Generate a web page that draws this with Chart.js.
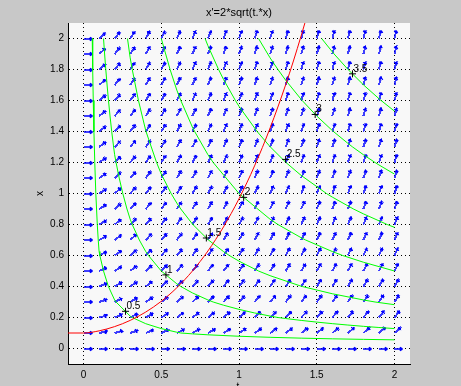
<!DOCTYPE html>
<html><head><meta charset="utf-8">
<script src="https://cdn.jsdelivr.net/npm/chart.js@4/dist/chart.umd.min.js"></script>
<style>html,body{margin:0;padding:0;background:#c8c8c8;overflow:hidden}</style>
</head><body>
<canvas id="c" width="461" height="386"></canvas>
<script>
// ---- data ----
const chartTitle = "x'=2*sqrt(t.*x)";
const xAxisTitle = "t";
const yAxisTitle = "x";
const tGrid = [0,0.1,0.2,0.3,0.4,0.5,0.6,0.7,0.8,0.9,1,1.1,1.2,1.3,1.4,1.5,1.6,1.7,1.8,1.9,2];
const xGrid = [0,0.1,0.2,0.3,0.4,0.5,0.6,0.7,0.8,0.9,1,1.1,1.2,1.3,1.4,1.5,1.6,1.7,1.8,1.9,2];
// slopeRows[j][i] : slope x' at x = xGrid[j], t = tGrid[i]
const slopeRows = [
[0,0,0,0,0,0,0,0,0,0,0,0,0,0,0,0,0,0,0,0,0],
[0,.2,.28,.35,.4,.45,.49,.53,.57,.6,.63,.66,.69,.72,.75,.77,.8,.82,.85,.87,.89],
[0,.28,.4,.49,.57,.63,.69,.75,.8,.85,.89,.94,.98,1.02,1.06,1.1,1.13,1.17,1.2,1.23,1.26],
[0,.35,.49,.6,.69,.77,.85,.92,.98,1.04,1.1,1.15,1.2,1.25,1.3,1.34,1.39,1.43,1.47,1.51,1.55],
[0,.4,.57,.69,.8,.89,.98,1.06,1.13,1.2,1.26,1.33,1.39,1.44,1.5,1.55,1.6,1.65,1.7,1.74,1.79],
[0,.45,.63,.77,.89,1,1.1,1.18,1.26,1.34,1.41,1.48,1.55,1.61,1.67,1.73,1.79,1.84,1.9,1.95,2],
[0,.49,.69,.85,.98,1.1,1.2,1.3,1.39,1.47,1.55,1.62,1.7,1.77,1.83,1.9,1.96,2.02,2.08,2.14,2.19],
[0,.53,.75,.92,1.06,1.18,1.3,1.4,1.5,1.59,1.67,1.76,1.83,1.91,1.98,2.05,2.12,2.18,2.24,2.31,2.37],
[0,.57,.8,.98,1.13,1.26,1.39,1.5,1.6,1.7,1.79,1.88,1.96,2.04,2.12,2.19,2.26,2.33,2.4,2.47,2.53],
[0,.6,.85,1.04,1.2,1.34,1.47,1.59,1.7,1.8,1.9,1.99,2.08,2.16,2.25,2.32,2.4,2.47,2.55,2.62,2.68],
[0,.63,.89,1.1,1.26,1.41,1.55,1.67,1.79,1.9,2,2.1,2.19,2.28,2.37,2.45,2.53,2.61,2.68,2.76,2.83],
[0,.66,.94,1.15,1.33,1.48,1.62,1.75,1.88,1.99,2.1,2.2,2.3,2.39,2.48,2.57,2.65,2.73,2.81,2.89,2.97],
[0,.69,.98,1.2,1.39,1.55,1.7,1.83,1.96,2.08,2.19,2.3,2.4,2.5,2.59,2.68,2.77,2.86,2.94,3.02,3.1],
[0,.72,1.02,1.25,1.44,1.61,1.77,1.91,2.04,2.16,2.28,2.39,2.5,2.6,2.7,2.79,2.88,2.97,3.06,3.14,3.22],
[0,.75,1.06,1.3,1.5,1.67,1.83,1.98,2.12,2.24,2.37,2.48,2.59,2.7,2.8,2.9,2.99,3.09,3.17,3.26,3.35],
[0,.77,1.1,1.34,1.55,1.73,1.9,2.05,2.19,2.32,2.45,2.57,2.68,2.79,2.9,3,3.1,3.19,3.29,3.38,3.46],
[0,.8,1.13,1.39,1.6,1.79,1.96,2.12,2.26,2.4,2.53,2.65,2.77,2.88,2.99,3.1,3.2,3.3,3.39,3.49,3.58],
[0,.82,1.17,1.43,1.65,1.84,2.02,2.18,2.33,2.47,2.61,2.73,2.86,2.97,3.09,3.19,3.3,3.4,3.5,3.59,3.69],
[0,.85,1.2,1.47,1.7,1.9,2.08,2.24,2.4,2.55,2.68,2.81,2.94,3.06,3.17,3.29,3.39,3.5,3.6,3.7,3.79],
[0,.87,1.23,1.51,1.74,1.95,2.14,2.31,2.47,2.62,2.76,2.89,3.02,3.14,3.26,3.38,3.49,3.59,3.7,3.8,3.9],
[0,.89,1.26,1.55,1.79,2,2.19,2.37,2.53,2.68,2.83,2.97,3.1,3.22,3.35,3.46,3.58,3.69,3.79,3.9,4]
];
const xTickValues = [0,0.5,1,1.5,2];
const xTickLabels = ['0','0.5','1','1.5','2'];
const yTickValues = [0,0.2,0.4,0.6,0.8,1,1.2,1.4,1.6,1.8,2];
const yTickLabels = ['0','0.2','0.4','0.6','0.8','1','1.2','1.4','1.6','1.8','2'];

// isoclines (t, x) points
const iso0_5 = [[.0559,2],[.0589,1.8],[.0625,1.6],[.0668,1.4],[.0722,1.2],[.079,1],[.0884,.8],[.0945,.7],[.1,.626],[.105,.6],[.1285,.5],[.16,.4],[.2,.313],[.209,.3],[.3,.209],[.313,.2],[.4,.16],[.5,.1285],[.6,.105],[.626,.1],[.7,.0945],[.8,.0884],[1,.079],[1.2,.0722],[1.4,.0668],[1.6,.0625],[1.8,.0589],[2,.0559]];
const iso1 = [[.1285,2],[.1355,1.9],[.1431,1.8],[.1514,1.7],[.1604,1.6],[.1703,1.5],[.1812,1.4],[.1934,1.3],[.2,1.2505],[.2092,1.2],[.2294,1.1],[.2525,1],[.2794,.9],[.3,.834],[.3133,.8],[.3588,.7],[.4,.6257],[.4175,.6],[.5,.5],[.6,.4175],[.6257,.4],[.7,.3588],[.8,.3133],[.834,.3],[.9,.2794],[1,.2525],[1.1,.2294],[1.2,.2092],[1.2505,.2],[1.3,.1934],[1.4,.1812],[1.5,.1703],[1.6,.1604],[1.7,.1514],[1.8,.1431],[1.9,.1355],[2,.1285]];
const iso1_5 = [[.2827,2],[.3,1.8753],[.3133,1.8],[.3533,1.6],[.4,1.4063],[.4019,1.4],[.4699,1.2],[.5,1.1255],[.5635,1],[.6,.9381],[.6257,.9],[.7,.8036],[.7032,.8],[.8,.7032],[.8036,.7],[.9,.6257],[.9381,.6],[1,.5635],[1.1255,.5],[1.2,.4699],[1.4,.4019],[1.4063,.4],[1.6,.3533],[1.8,.3133],[1.8753,.3],[2,.2827]];
const iso2 = [[.5,2],[.5567,1.8],[.6,1.667],[.6257,1.6],[.7,1.4286],[.7147,1.4],[.8,1.2505],[.834,1.2],[1,1],[1.2,.834],[1.2505,.8],[1.4,.7147],[1.4286,.7],[1.6,.6257],[1.667,.6],[1.8,.5567],[2,.5]];
const iso2_5 = [[.7818,2],[.8,1.9534],[.8688,1.8],[.9,1.7365],[.977,1.6],[1,1.5627],[1.1165,1.4],[1.2,1.3021],[1.3021,1.2],[1.4,1.1165],[1.5627,1],[1.6,.977],[1.7365,.9],[1.8,.8688],[1.9534,.8],[2,.7818]];
const iso3 = [[1.1255,2],[1.2,1.8751],[1.2505,1.8],[1.3,1.731],[1.4,1.6073],[1.4063,1.6],[1.5,1.5],[1.6,1.4065],[1.6074,1.4],[1.7,1.3239],[1.7311,1.3],[1.8,1.2505],[1.8753,1.2],[1.9,1.1844],[2,1.1254]];
const iso3_5 = [[1.5317,2],[1.6,1.9142],[1.6119,1.9],[1.7,1.8017],[1.7015,1.8],[1.8,1.7016],[1.8016,1.7],[1.9,1.6122],[1.9142,1.6],[2,1.5315]];

// contour labels
const levelLabels = ['0.5','1','1.5','2','2.5','3','3.5'];
const labelT = [0.27,0.53,0.79,1.03,1.30,1.49,1.73];
const labelX = [0.24,0.475,0.713,0.975,1.22,1.51,1.772];

// solution curve
const solT = [-0.1,0,0.1,0.2,0.3,0.4,0.5,0.6,0.7,0.8,0.9,1.0,1.1,1.2,1.3,1.35,1.4,1.45];
const solX = [0.1,0.1,0.1138,0.1413,0.1813,0.2351,0.3046,0.3919,0.4993,0.6292,0.7839,0.9661,1.1779,1.4223,1.7013,1.8548,2.0181,2.191];

// ---- rendering ----
const FONT = "'Liberation Sans', Arial, Helvetica, sans-serif";
Chart.defaults.font.family = FONT;
Chart.defaults.font.size = 10;
Chart.defaults.color = '#000';

function makeArrow(){
  const c = document.createElement('canvas');
  c.width = 24; c.height = 24;
  const g = c.getContext('2d');
  g.strokeStyle = '#0000ff';
  g.lineWidth = 1.5;
  g.beginPath();
  g.moveTo(12,12); g.lineTo(20.5,12);
  g.moveTo(20.5,12); g.lineTo(17.8,10.4);
  g.moveTo(20.5,12); g.lineTo(17.8,13.6);
  g.stroke();
  return c;
}
const arrowImg = makeArrow();

const arrowData = [];
xGrid.forEach((xv, j) => tGrid.forEach((tv, i) => arrowData.push({x: tv, y: xv, s: slopeRows[j][i]})));

const toPts = arr => arr.map(p => ({x: p[0], y: p[1]}));
const isoSets = [iso0_5, iso1, iso1_5, iso2, iso2_5, iso3, iso3_5];

const datasets = [];
datasets.push({
  label: 'solution', type: 'line',
  data: solT.map((t, k) => ({x: t, y: solX[k]})),
  borderColor: '#ff0000', borderWidth: 1, pointRadius: 0, fill: false,
  cubicInterpolationMode: 'monotone'
});
datasets.push({
  label: 'labels', type: 'scatter',
  data: labelT.map((t, k) => ({x: t, y: labelX[k]})),
  pointStyle: 'cross', pointRadius: 3.5, borderColor: '#000', borderWidth: 1
});
isoSets.forEach((s, k) => datasets.push({
  label: 'iso ' + levelLabels[k], type: 'line',
  data: toPts(s), borderColor: '#00ff00', borderWidth: 1, pointRadius: 0, tension: 0, fill: false
}));
datasets.push({
  label: 'field', type: 'scatter',
  data: arrowData,
  pointStyle: arrowImg, pointRadius: 5,
  rotation: ctx => ctx.raw ? -Math.atan(ctx.raw.s) * 180 / Math.PI : 0
});

const decor = {
  id: 'decor',
  beforeDraw(chart){
    const {ctx, chartArea: a} = chart;
    ctx.save();
    ctx.fillStyle = '#c8c8c8'; ctx.fillRect(0, 0, chart.width, chart.height);
    ctx.fillStyle = '#f8f8f8'; ctx.fillRect(a.left, a.top, a.right - a.left, a.bottom - a.top);
    ctx.restore();
  },
  beforeDatasetsDraw(chart){
    chart.ctx.imageSmoothingEnabled = false;
  },
  afterDatasetsDraw(chart){
    const {ctx, scales} = chart;
    ctx.imageSmoothingEnabled = true;
    ctx.save();
    ctx.fillStyle = '#000';
    ctx.font = '10px ' + FONT;
    ctx.textAlign = 'left'; ctx.textBaseline = 'alphabetic';
    levelLabels.forEach((lab, k) => {
      const px = scales.x.getPixelForValue(labelT[k]);
      const py = scales.y.getPixelForValue(labelX[k]);
      ctx.fillText(lab, px + 1, py - 2);
    });
    ctx.restore();
  },
  afterDraw(chart){
    const {ctx, chartArea: a} = chart;
    const cx = (a.left + a.right) / 2;
    ctx.save();
    ctx.fillStyle = '#000';
    ctx.font = '11px ' + FONT;
    ctx.textAlign = 'center'; ctx.textBaseline = 'alphabetic';
    ctx.fillText(chartTitle, cx, 16);
    ctx.font = '10px ' + FONT;
    ctx.fillText(xAxisTitle, cx - 1, 390);
    ctx.translate(40, (a.top + a.bottom) / 2);
    ctx.rotate(-Math.PI / 2);
    ctx.textBaseline = 'middle';
    ctx.fillText(yAxisTitle, 0, 0);
    ctx.restore();
  }
};

new Chart(document.getElementById('c'), {
  type: 'scatter',
  data: {datasets},
  options: {
    responsive: false, animation: false, devicePixelRatio: 1,
    layout: {padding: {top: 23, right: 51, left: 0, bottom: 0}},
    plugins: {legend: {display: false}, tooltip: {enabled: false}, title: {display: false}},
    scales: {
      x: {
        type: 'linear', min: -0.1, max: 2.1,
        afterFit: s => { s.height = 22; },
        afterBuildTicks: s => { s.ticks = xTickValues.map(v => ({value: v})); },
        ticks: {callback: (v, i) => xTickLabels[i], padding: 5, maxRotation: 0, autoSkip: false, color: '#000'},
        grid: {color: '#000', lineWidth: 1, drawTicks: false},
        border: {display: true, color: '#000', width: 1, dash: [1, 3]}
      },
      y: {
        type: 'linear', min: -0.1, max: 2.1,
        afterFit: s => { s.width = 68; },
        afterBuildTicks: s => { s.ticks = yTickValues.map(v => ({value: v})); },
        ticks: {callback: (v, i) => yTickLabels[i], padding: 4, autoSkip: false, color: '#000'},
        grid: {color: '#000', lineWidth: 1, drawTicks: false},
        border: {display: true, color: '#000', width: 1, dash: [1, 3]}
      }
    }
  },
  plugins: [decor]
});
</script>
</body></html>
